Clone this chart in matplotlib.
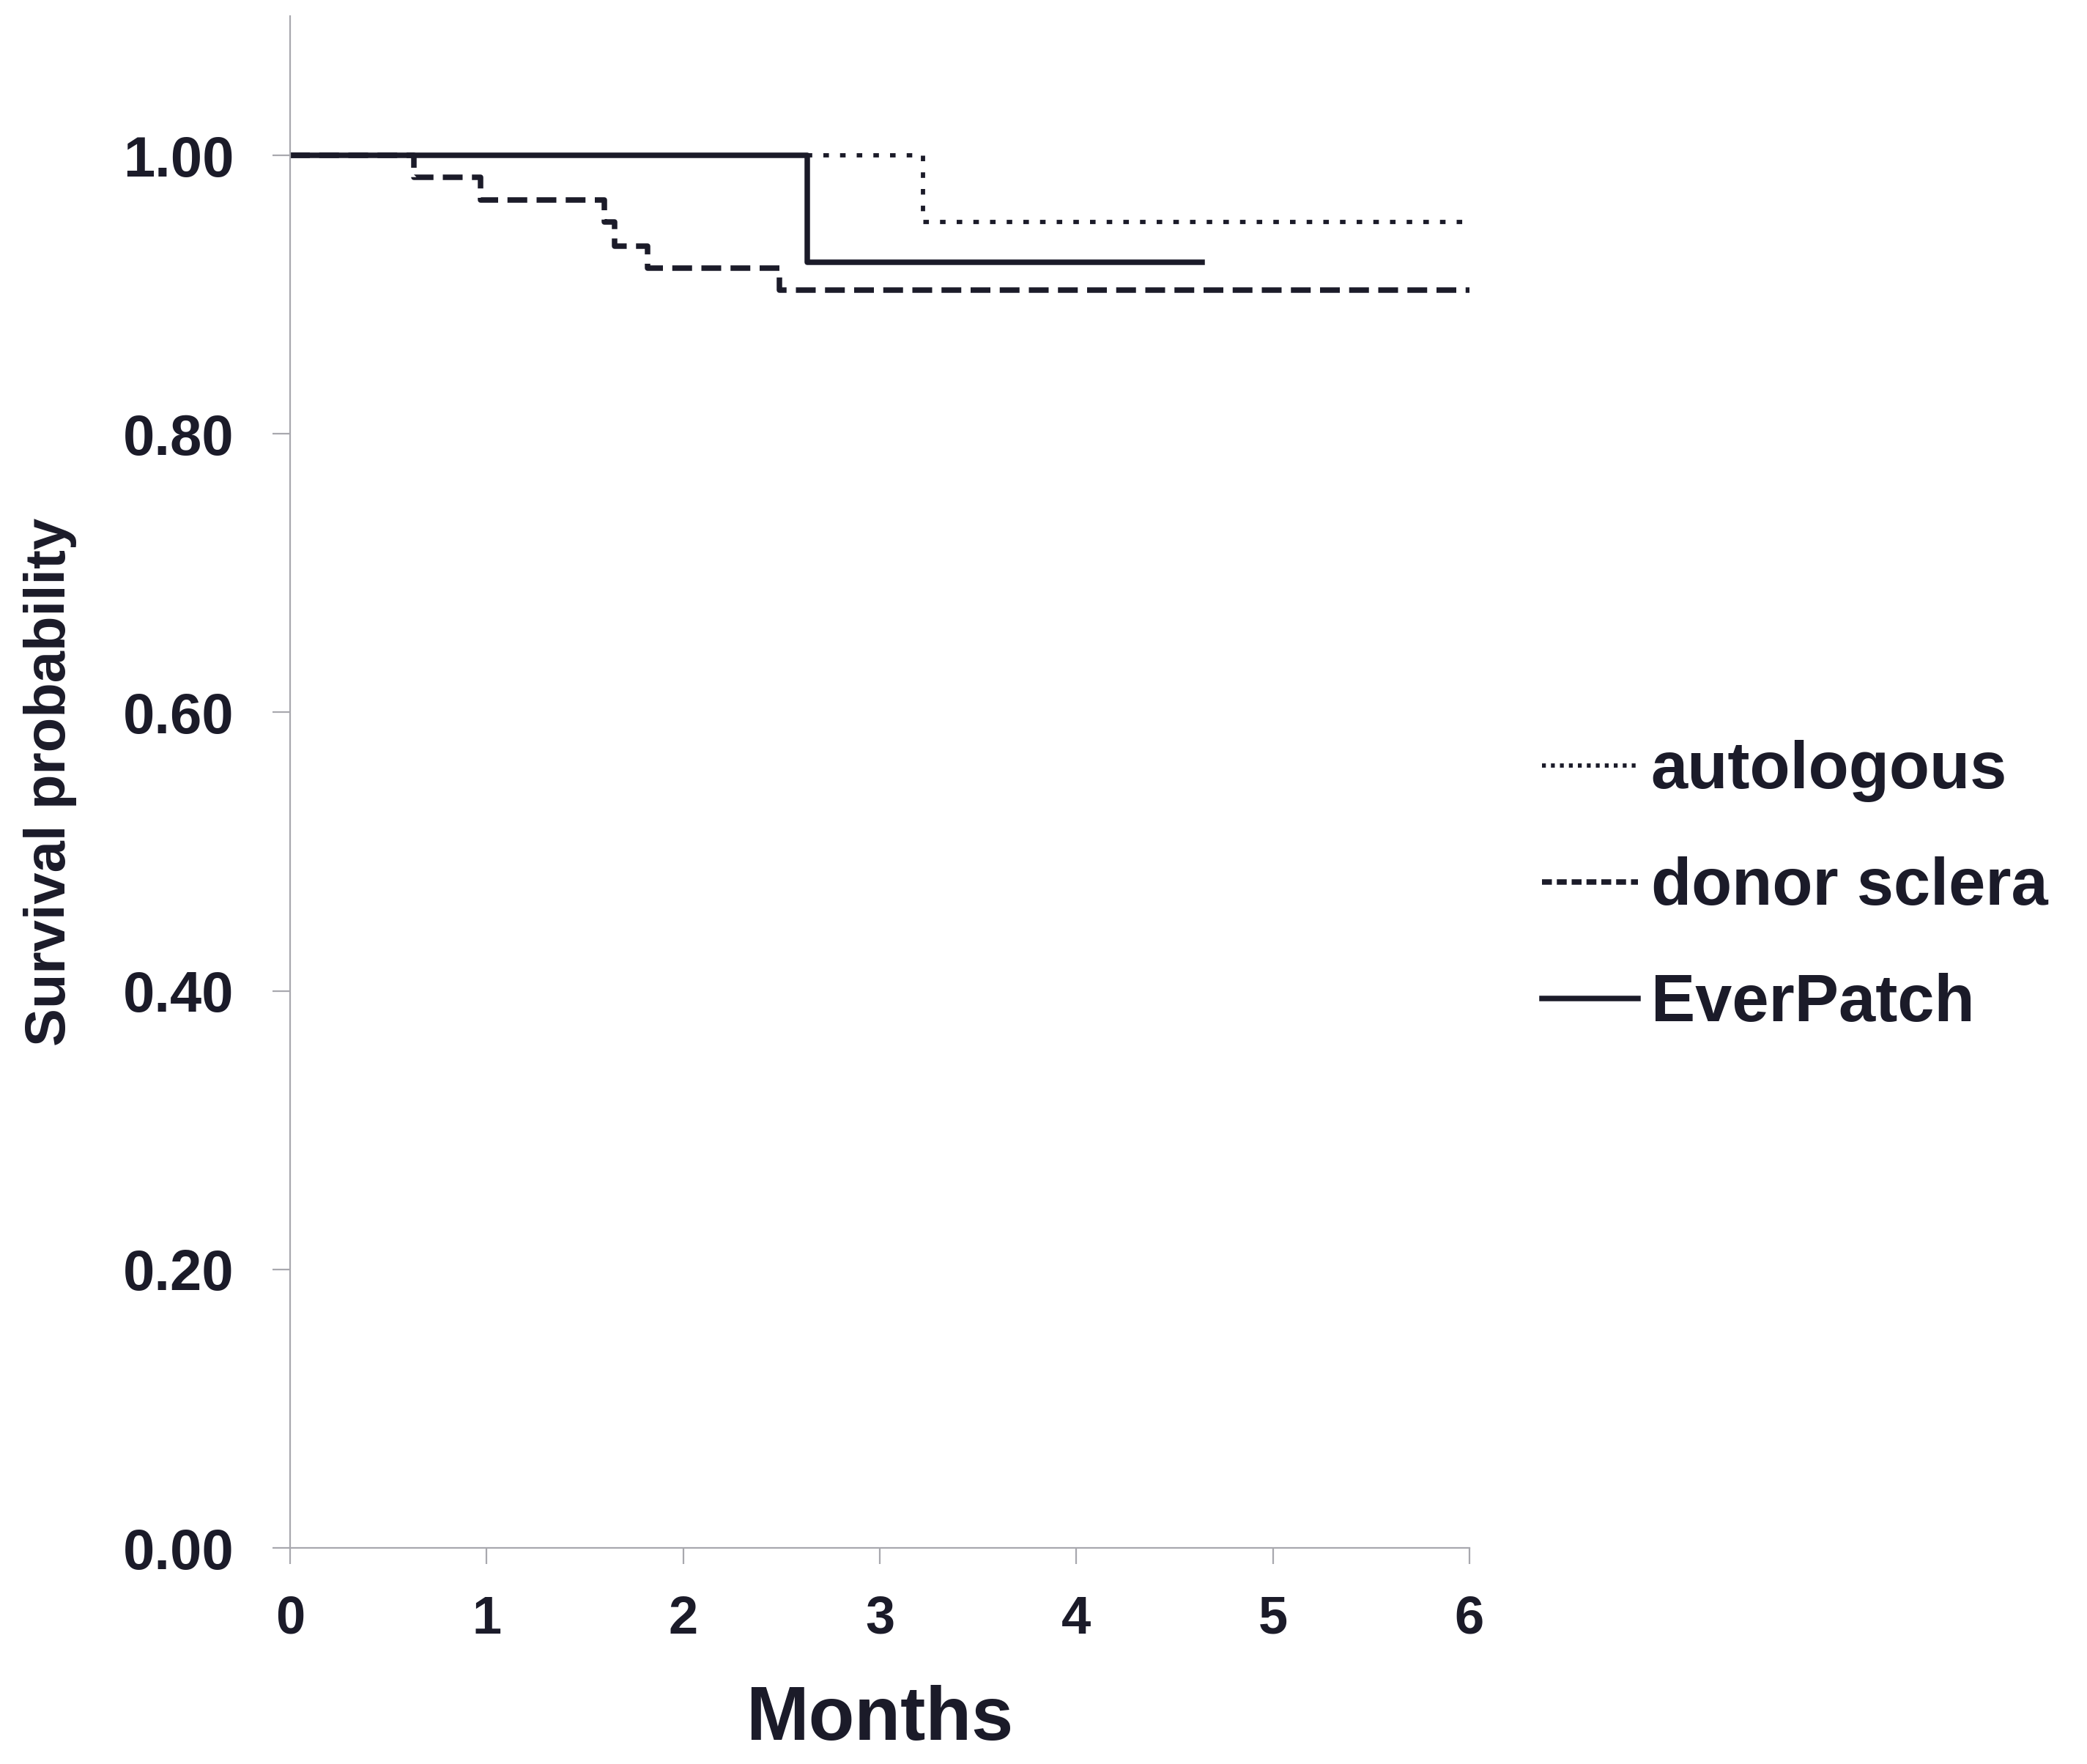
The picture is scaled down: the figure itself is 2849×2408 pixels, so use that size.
import matplotlib
matplotlib.use("Agg")
import matplotlib.pyplot as plt
from matplotlib.lines import Line2D

# Kaplan-Meier step data (months, survival)
auto_t = [0, 3.22, 6.0]
auto_s = [1.0, 0.952, 0.952]

donor_t = [0, 0.63, 0.97, 1.60, 1.65, 1.82, 2.49, 6.0]
donor_s = [1.0, 0.984, 0.968, 0.952, 0.935, 0.919, 0.903, 0.903]

ever_t = [0, 2.63, 4.64]
ever_s = [1.0, 0.923, 0.923]

labels = ["autologous", "donor sclera", "EverPatch"]
xticks = [0, 1, 2, 3, 4, 5, 6]
yticks = [0.0, 0.2, 0.4, 0.6, 0.8, 1.0]

ink = "#1b1b29"
grey = "#a8a8ae"
bold_font = ["Liberation Sans", "DejaVu Sans"]

fig = plt.figure(figsize=(28.49, 24.08), dpi=100)
ax = fig.add_axes([0.139, 0.1225, 0.5651, 0.8684])

l1, = ax.step(auto_t, auto_s, where="post", color=ink, lw=4.2,
              dashes=(1.3, 2.6))
l2, = ax.step(donor_t, donor_s, where="post", color=ink, lw=5.4,
              dashes=(3.6, 1.7))
l3, = ax.step(ever_t, ever_s, where="post", color=ink, lw=5.4)

ax.set_xlim(0, 6)
ax.set_ylim(0, 1.1)
ax.set_xticks(xticks)
ax.set_yticks(yticks)
ax.set_xticklabels([str(v) for v in xticks], family=bold_font,
                   fontweight="bold", fontsize=52, color=ink)
ax.set_yticklabels(["%.2f" % v for v in yticks], family=bold_font,
                   fontweight="bold", fontsize=56, color=ink)

for side in ["top", "right"]:
    ax.spines[side].set_visible(False)
for side in ["left", "bottom"]:
    ax.spines[side].set_color(grey)
    ax.spines[side].set_linewidth(1.6)

ax.tick_params(axis="y", direction="out", length=17, width=1.6,
               color=grey, pad=38)
ax.tick_params(axis="x", direction="out", length=16, width=1.6,
               color=grey, pad=30)

ax.set_xlabel("Months", family=bold_font, fontweight="bold",
              fontsize=74, color=ink, labelpad=40)
ax.set_ylabel("Survival probability", family=bold_font, fontweight="bold",
              fontsize=56, color=ink, labelpad=45)

# legend
h1 = Line2D([], [], color=ink, lw=4.2, dashes=(0.9, 1.2))
h2 = Line2D([], [], color=ink, lw=5.4, dashes=(1.8, 0.9))
h3 = Line2D([], [], color=ink, lw=5.4)
leg = ax.legend([h1, h2, h3], labels, loc="center left",
                bbox_to_anchor=(1.039, 0.431), frameon=False,
                handlelength=1.45, handletextpad=0.2, labelspacing=0.82,
                borderaxespad=0,
                prop={"family": bold_font, "weight": "bold", "size": 65})
for t in leg.get_texts():
    t.set_color(ink)

fig.savefig("out.png", dpi=100, facecolor="white")
